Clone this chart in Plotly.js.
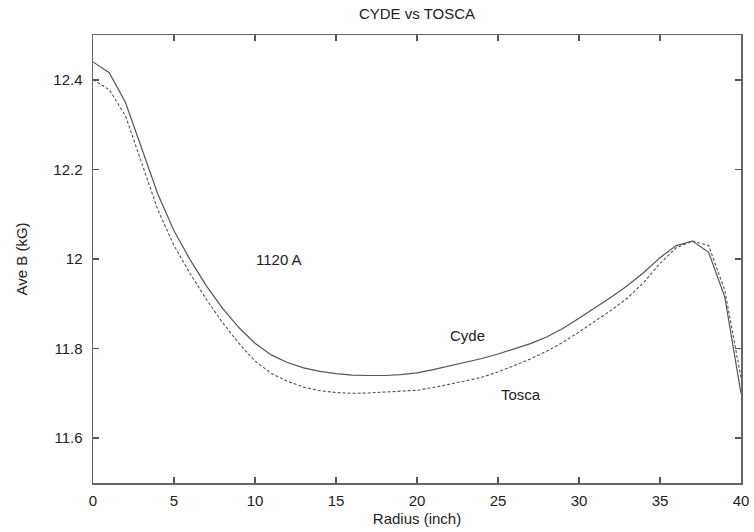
<!DOCTYPE html>
<html>
<head>
<meta charset="utf-8">
<script src="https://cdn.plot.ly/plotly-3.0.1.min.js"></script>
<style>html,body{margin:0;padding:0;background:#fff;}#chart{width:754px;height:532px;}</style>
</head>
<body>
<div id="chart"></div>
<script>
const radius = [0,1,2,3,4,5,6,7,8,9,10,11,12,13,14,15,16,17,18,19,20,21,22,23,24,25,26,27,28,29,30,31,32,33,34,35,36,37,38,39,40];
const cyde = [12.44,12.416,12.35,12.245,12.145,12.063,11.998,11.94,11.89,11.847,11.812,11.786,11.769,11.757,11.749,11.744,11.741,11.740,11.740,11.742,11.746,11.753,11.761,11.769,11.778,11.788,11.799,11.811,11.826,11.845,11.868,11.891,11.915,11.941,11.970,12.003,12.03,12.04,12.015,11.915,11.70];
const tosca = [12.40,12.378,12.32,12.213,12.11,12.03,11.967,11.91,11.858,11.812,11.772,11.745,11.727,11.714,11.706,11.702,11.700,11.701,11.703,11.704,11.707,11.713,11.720,11.728,11.736,11.748,11.762,11.777,11.794,11.814,11.837,11.861,11.886,11.913,11.948,11.99,12.025,12.04,12.03,11.93,11.735];
const yTicks = [11.6,11.8,12,12.2,12.4];
const yTickText = ["11.6","11.8","12","12.2","12.4"];
const xTicks = [0,5,10,15,20,25,30,35,40];
const notes = [
  {text:"1120 A", x:11.5, y:12.0},
  {text:"Cyde", x:23.1, y:11.829},
  {text:"Tosca", x:26.4, y:11.698}
];

const font = {family:"Liberation Sans, Arial, sans-serif", size:15, color:"#222"};
const traces = [
  {x:radius, y:cyde, name:"Cyde", mode:"lines", line:{color:"#555", width:1.2, dash:"solid"}},
  {x:radius, y:tosca, name:"Tosca", mode:"lines", line:{color:"#555", width:1.1, dash:"3px,2px"}}
];
const axisCommon = {showgrid:false, zeroline:false, showline:true, linecolor:"#666", linewidth:1.5,
  ticks:"inside", ticklen:6, tickwidth:1.5, tickcolor:"#555", mirror:"ticks", tickfont:font};
const layout = {
  width:754, height:532,
  margin:{l:93, r:13, t:35, b:49},
  paper_bgcolor:"#fff", plot_bgcolor:"#fff",
  showlegend:false,
  font:font,
  title:{text:"CYDE vs TOSCA", x:0.553, xanchor:"center", y:0.975, yanchor:"middle", font:{family:font.family, size:15, color:"#222"}},
  xaxis:Object.assign({}, axisCommon, {range:[0,40], tickvals:xTicks, ticktext:xTicks.map(String), ticklabelstandoff:3,
    title:{text:"Radius (inch)", font:font, standoff:6}}),
  yaxis:Object.assign({}, axisCommon, {range:[11.5,12.5], tickvals:yTicks, ticktext:yTickText, ticklabelstandoff:6,
    title:{text:"Ave B (kG)", font:font, standoff:22}}),
  annotations: notes.map(n => ({text:n.text, x:n.x, y:n.y, xref:"x", yref:"y", showarrow:false, font:font}))
};
Plotly.newPlot("chart", traces, layout, {displayModeBar:false, staticPlot:true});
</script>
</body>
</html>
